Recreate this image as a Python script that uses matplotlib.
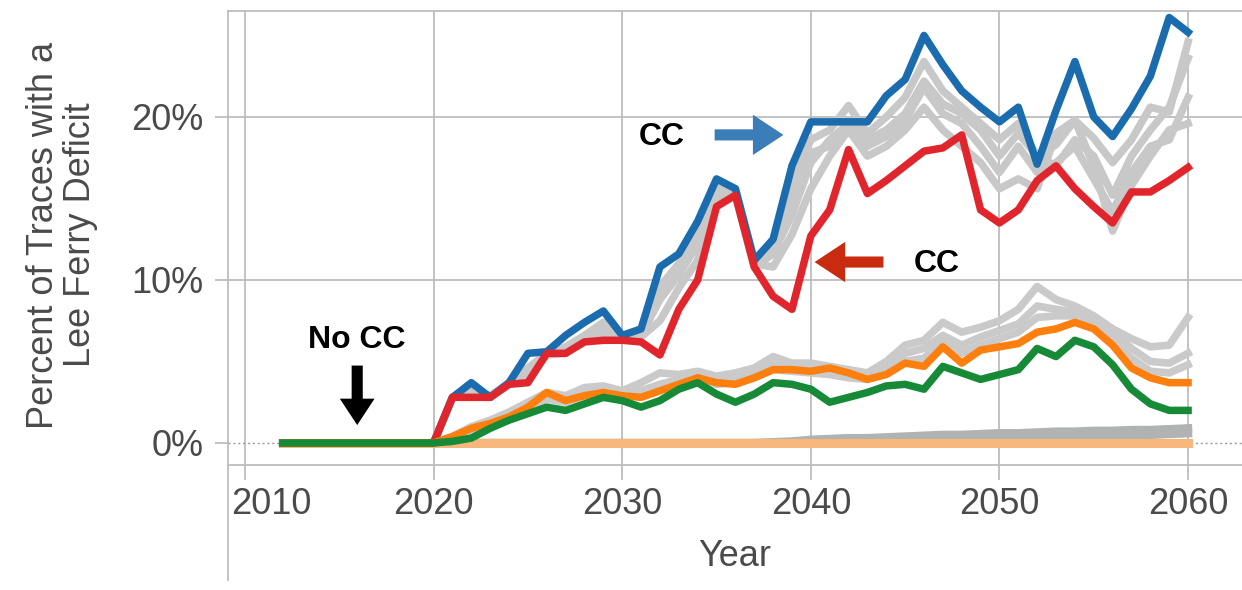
import matplotlib
matplotlib.use("Agg")
import matplotlib.pyplot as plt
from matplotlib.lines import Line2D
from matplotlib.transforms import ScaledTranslation

plt.rcParams["font.family"] = ["Liberation Sans", "DejaVu Sans"]

# ---- data (percent of traces with a Lee Ferry deficit) ----
years = list(range(2012, 2061))
years_late = list(range(2020, 2061))

cc_high = [0, 0, 0, 0, 0, 0, 0, 0, 0,
           2.8, 3.7, 2.8, 3.7, 5.5, 5.6, 6.6, 7.4, 8.1, 6.6,
           7.0, 10.8, 11.6, 13.6, 16.2, 15.6, 11.2, 12.5, 17.0, 19.7,
           19.7, 19.7, 19.7, 21.3, 22.3, 25.0, 23.2, 21.6, 20.6, 19.7,
           20.6, 17.1, 20.4, 23.4, 20.0, 18.8, 20.5, 22.5, 26.1, 25.2]

cc_low = [0, 0, 0, 0, 0, 0, 0, 0, 0,
          2.8, 2.8, 2.8, 3.6, 3.7, 5.5, 5.5, 6.2, 6.3, 6.3,
          6.2, 5.4, 8.2, 10.0, 14.5, 15.2, 10.8, 9.0, 8.2, 12.7,
          14.3, 18.0, 15.3, 16.1, 17.0, 17.9, 18.1, 18.9, 14.3, 13.5,
          14.3, 16.1, 17.0, 15.6, 14.5, 13.5, 15.4, 15.4, 16.1, 16.9]

mid_high = [0, 0, 0, 0, 0, 0, 0, 0, 0,
            0.4, 0.9, 1.2, 1.6, 2.2, 3.1, 2.6, 2.9, 3.1, 2.9,
            2.8, 3.2, 3.6, 4.0, 3.7, 3.6, 4.0, 4.5, 4.5, 4.4,
            4.6, 4.3, 3.9, 4.2, 4.9, 4.7, 5.9, 4.9, 5.7, 5.9,
            6.1, 6.8, 7.0, 7.4, 7.0, 6.0, 4.6, 4.0, 3.7, 3.7]

mid_low = [0, 0, 0, 0, 0, 0, 0, 0, 0,
           0.1, 0.3, 0.9, 1.4, 1.8, 2.2, 2.0, 2.4, 2.8, 2.6,
           2.2, 2.6, 3.3, 3.7, 3.0, 2.5, 3.0, 3.7, 3.6, 3.3,
           2.5, 2.8, 3.1, 3.5, 3.6, 3.3, 4.7, 4.3, 3.9, 4.2,
           4.5, 5.8, 5.3, 6.3, 5.9, 4.8, 3.3, 2.4, 2.0, 2.0]

no_cc_flat = [0, 0, 0, 0, 0, 0, 0, 0, 0,
              0, 0, 0, 0, 0, 0, 0, 0, 0, 0,
              0, 0, 0, 0, 0, 0, 0, 0, 0, 0,
              0, 0, 0, 0, 0, 0, 0, 0, 0, 0,
              0, 0, 0, 0, 0, 0, 0, 0, 0, 0]

# other traces (grey), 2020-2060
grey_cc = [
    [0, 2.8, 3.2, 2.9, 3.7, 4.6, 5.5, 5.9, 6.6, 7.4, 6.6,
     6.9, 9.6, 11.0, 13.0, 15.8, 15.6, 11.2, 12.4, 15.8, 18.6,
     19.2, 20.7, 19.0, 20.0, 21.2, 23.4, 21.6, 20.6, 19.6, 18.6,
     19.6, 17.6, 18.3, 19.8, 18.7, 17.2, 18.6, 20.6, 20.3, 24.6],
    [0, 2.8, 3.0, 2.8, 3.6, 4.2, 5.4, 5.6, 6.4, 6.9, 6.5,
     6.6, 8.8, 10.3, 12.2, 15.4, 15.2, 10.8, 11.6, 14.0, 17.2,
     18.6, 19.6, 18.2, 18.8, 19.8, 21.8, 20.2, 19.6, 18.2, 16.6,
     18.2, 16.6, 17.2, 18.2, 16.2, 14.2, 16.6, 18.2, 18.6, 21.2],
    [0, 2.8, 2.9, 2.8, 3.6, 4.0, 5.4, 5.5, 6.3, 6.6, 6.4,
     6.5, 7.5, 9.5, 11.2, 15.0, 15.3, 11.0, 10.8, 12.8, 15.6,
     17.6, 19.2, 17.6, 18.2, 19.2, 20.6, 19.2, 18.2, 17.2, 15.6,
     16.2, 15.6, 19.0, 19.8, 17.0, 13.0, 15.8, 17.6, 19.2, 19.6],
    [0, 2.8, 3.1, 2.9, 3.6, 4.4, 5.5, 5.8, 6.5, 7.1, 6.6,
     6.8, 9.2, 10.7, 12.6, 15.6, 15.4, 11.1, 12.0, 15.0, 17.8,
     18.2, 19.8, 18.6, 19.2, 20.2, 22.2, 20.8, 20.2, 19.2, 17.6,
     19.0, 17.6, 17.0, 18.6, 17.6, 15.2, 17.6, 19.2, 20.6, 23.6],
]

grey_mid = [
    [0, 0.4, 1.0, 1.4, 1.9, 2.5, 3.1, 2.9, 3.4, 3.5, 3.2,
     3.7, 4.3, 4.2, 4.4, 4.1, 4.3, 4.6, 5.3, 4.9, 4.9,
     4.7, 4.5, 4.3, 5.0, 6.0, 6.3, 7.4, 6.8, 7.1, 7.5,
     8.2, 9.6, 8.8, 8.4, 7.8, 7.0, 6.4, 5.9, 6.0, 7.7],
    [0, 0.3, 0.8, 1.2, 1.7, 2.3, 2.9, 2.7, 3.1, 3.2, 3.0,
     3.2, 3.6, 3.9, 4.1, 3.8, 3.9, 4.2, 4.8, 4.6, 4.5,
     4.4, 4.2, 4.1, 4.6, 5.5, 5.8, 6.6, 6.0, 6.5, 6.9,
     7.3, 8.4, 8.2, 8.0, 7.6, 6.8, 5.8, 5.0, 4.9, 5.5],
    [0, 0.2, 0.7, 1.1, 1.5, 2.1, 2.7, 2.5, 2.9, 3.0, 2.8,
     3.0, 3.4, 3.7, 3.9, 3.6, 3.7, 4.0, 4.5, 4.4, 4.3,
     4.2, 4.0, 3.9, 4.3, 5.0, 5.2, 6.2, 5.5, 6.0, 6.4,
     6.8, 7.7, 7.8, 7.8, 7.2, 6.2, 5.2, 4.4, 4.3, 4.8],
]

grey_zero = [
    [0, 0, 0, 0, 0, 0, 0, 0, 0, 0, 0,
     0, 0, 0, 0, 0, 0, 0, 0.05, 0.1, 0.2,
     0.25, 0.3, 0.3, 0.35, 0.4, 0.45, 0.5, 0.5, 0.55, 0.6,
     0.6, 0.65, 0.7, 0.7, 0.75, 0.75, 0.8, 0.8, 0.85, 0.9],
    [0, 0, 0, 0, 0, 0, 0, 0, 0, 0, 0,
     0, 0, 0, 0, 0, 0, 0, 0, 0.05, 0.1,
     0.1, 0.15, 0.15, 0.2, 0.2, 0.25, 0.3, 0.3, 0.3, 0.35,
     0.35, 0.4, 0.4, 0.45, 0.45, 0.5, 0.5, 0.5, 0.55, 0.6],
]

x_ticks = [2010, 2020, 2030, 2040, 2050, 2060]
x_tick_labels = ["2010", "2020", "2030", "2040", "2050", "2060"]
y_ticks = [0, 10, 20]
y_tick_labels = ["0%", "10%", "20%"]

# ---- figure ----
W, H = 1242, 590
fig = plt.figure(figsize=(W / 100, H / 100), dpi=100)
ax = fig.add_axes([228 / W, 1 - 465 / H, 1 - 228 / W, (465 - 11) / H])
ax.set_xlim(2009.1, 2062.86)
ax.set_ylim(-1.35, 26.5)

grid_c = "#bdbdbd"
for x in x_ticks:
    ax.axvline(x, color=grid_c, lw=1.3, zorder=0)
for y in y_ticks[1:]:
    ax.axhline(y, color=grid_c, lw=1.3, zorder=0)
ax.axhline(0, color="#9a9a9a", lw=1.0, ls=(0, (1.5, 2)), zorder=0)

for s in ["left", "top", "bottom"]:
    ax.spines[s].set_color(grid_c)
    ax.spines[s].set_linewidth(1.3)
ax.spines["right"].set_visible(False)
fig.add_artist(Line2D([228 / W, 228 / W], [1 - 580 / H, 1 - 465 / H],
                      transform=fig.transFigure, color=grid_c, lw=1.3))

# grey traces
for tr in grey_zero:
    ax.plot(years_late, tr, color="#b0b3b1", lw=6, solid_joinstyle="round", zorder=1)
for tr in grey_mid:
    ax.plot(years_late, tr, color="#cacaca", lw=5.5, solid_joinstyle="round", zorder=1)
for tr in grey_cc:
    ax.plot(years_late, tr, color="#c8c8c8", lw=5.5, solid_joinstyle="round", zorder=1)

# highlighted traces
ax.plot(years, no_cc_flat, color="#f7b67c", lw=6.5, zorder=2)
ax.plot(years, cc_high, color="#1b6cae", lw=5.4, solid_joinstyle="round", zorder=3)
ax.plot(years, cc_low, color="#e0262c", lw=5.4, solid_joinstyle="round", zorder=4)
ax.plot(years, mid_high, color="#ff7f0e", lw=5.4, solid_joinstyle="round", zorder=5)
ax.plot(years, mid_low, color="#178a38", lw=5.4, solid_joinstyle="round", zorder=6)

# ticks
ax.set_xticks(x_ticks)
ax.set_xticklabels(x_tick_labels)
ax.set_yticks(y_ticks)
ax.set_yticklabels(y_tick_labels)
ax.tick_params(axis="x", length=11, width=1.3, color=grid_c, pad=5,
               labelsize=26, labelcolor="#4a4a4a")
ax.tick_params(axis="y", length=9.5, width=1.3, color=grid_c, pad=8,
               labelsize=26, labelcolor="#4a4a4a")
first = ax.get_xticklabels()[0]
first.set_transform(first.get_transform() + ScaledTranslation(0.26, 0, fig.dpi_scale_trans))

ax.set_xlabel("Year", fontsize=26, color="#4a4a4a", labelpad=12)
fig.text(62 / W, 1 - 235 / H, "Percent of Traces with a\nLee Ferry Deficit",
         rotation=90, ha="center", va="center", multialignment="center",
         fontsize=26, color="#4a4a4a", linespacing=1.05)

# annotations
def block_arrow(start, end, color, head_w=29, head_l=22, tail_w=8):
    ax.annotate("", xy=end, xytext=start,
                arrowprops=dict(arrowstyle=f"simple,head_length={head_l},head_width={head_w},tail_width={tail_w}",
                                mutation_scale=1, color=color, shrinkA=0, shrinkB=0, lw=0),
                zorder=8)

ax.text(2015.9, 6.3, "No CC", fontsize=23, fontweight="bold", ha="center", va="center", zorder=8)
block_arrow((2015.95, 4.75), (2015.95, 1.1), "black", head_w=25, head_l=19, tail_w=8)

ax.text(2032.1, 18.8, "CC", fontsize=23, fontweight="bold", ha="center", va="center", zorder=8)
block_arrow((2034.9, 18.9), (2038.55, 18.9), "#3a7db8")

ax.text(2046.7, 11.0, "CC", fontsize=23, fontweight="bold", ha="center", va="center", zorder=8)
block_arrow((2043.85, 11.1), (2040.2, 11.1), "#c92b0f")

fig.savefig("out.png", dpi=100)
